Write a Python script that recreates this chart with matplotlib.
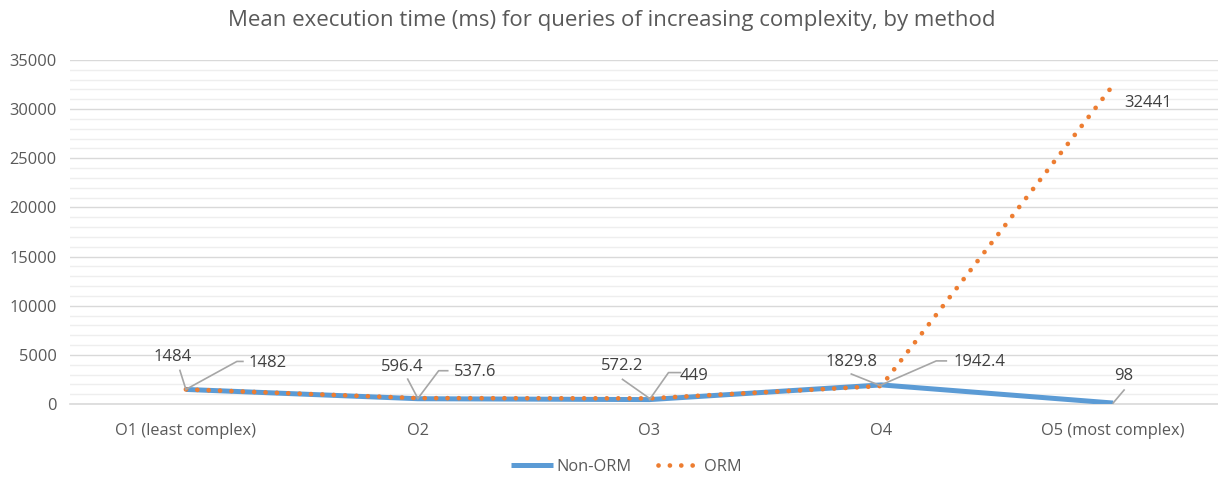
import numpy as np
import matplotlib
matplotlib.use('Agg')
import matplotlib.pyplot as plt
from matplotlib.transforms import IdentityTransform

plt.rcParams['font.family'] = ['Open Sans', 'DejaVu Sans']

categorias = ['O1 (least complex)', 'O2', 'O3', 'O4', 'O5 (most complex)']
non_orm = [1482, 537.6, 449, 1942.4, 98]
orm = [1484, 596.4, 572.2, 1829.8, 32441]
etiquetas_non_orm = ['1482', '537.6', '449', '1942.4', '98']
etiquetas_orm = ['1484', '596.4', '572.2', '1829.8', '32441']

azul = '#5B9BD5'
naranja = '#ED7D31'
gris_texto = '#595959'
gris_linea = '#A6A6A6'

fig = plt.figure(figsize=(12.18, 4.78), dpi=100)
# el eje sobresale a la derecha, como en el original recortado
ax = fig.add_axes([70/1218, 74/478, 1159/1218, 344/478])

x = np.arange(len(categorias))
ax.plot(x, non_orm, color=azul, lw=3.6, solid_capstyle='butt', zorder=3, label='Non-ORM')
ax.plot(x, orm, color=naranja, lw=3.4, linestyle=(0, (0.01, 2.4)), dash_capstyle='round',
        zorder=4, label='ORM')

ax.set_xlim(-0.5, 4.5)
ax.set_ylim(0, 35000)
ax.set_yticks(np.arange(0, 35001, 5000))
ax.set_yticks(np.arange(0, 35001, 1000), minor=True)
ax.set_xticks(x)
ax.set_xticklabels(categorias)
ax.grid(True, which='major', axis='y', color='#D9D9D9', lw=1.0, zorder=0)
ax.grid(True, which='minor', axis='y', color='#EEEEEE', lw=1.0, zorder=0)
ax.tick_params(axis='both', which='both', length=0, colors=gris_texto, labelsize=11.8)
ax.tick_params(axis='x', pad=14)
ax.tick_params(axis='y', pad=9.5)
for s in ['top', 'right', 'left']:
    ax.spines[s].set_visible(False)
ax.spines['bottom'].set_color('#D9D9D9')
ax.spines['bottom'].set_linewidth(1.2)

# etiquetas: posicion del texto (pixeles respecto al punto)
txt_non_orm = [(82, 26), (57, 27), (45, 24), (98, 23), (11, 27)]
txt_orm = [(-13, 32), (-15, 31), (-27, 32), (-30, 24), (35, -18)]
# lineas guia en pixeles respecto al punto (punto -> esquina -> fin)
guia_non_orm = [[(51, 28), (57, 28)], [(21, 28), (30, 28)], [(19, 27), (31, 27)],
                [(55, 24), (65, 24)], [(11, 13)]]
guia_orm = [[(-6, 19)], [(-10, 19)], [(-27, 19)], [(-30, 12)], []]

kw_txt = dict(textcoords='offset pixels', ha='center', va='center', fontsize=12,
              color='#404040', zorder=6)

def guia(xd, yd, tramos):
    if not tramos:
        return
    px, py = ax.transData.transform((xd, yd))
    xs = [px] + [px + t[0] for t in tramos]
    ys = [py] + [py + t[1] for t in tramos]
    ax.plot(xs, ys, color=gris_linea, lw=1.2, transform=IdentityTransform(),
            clip_on=False, zorder=5)

for i in range(len(x)):
    ax.annotate(etiquetas_non_orm[i], (x[i], non_orm[i]), xytext=txt_non_orm[i], **kw_txt)
    ax.annotate(etiquetas_orm[i], (x[i], orm[i]), xytext=txt_orm[i], **kw_txt)
    guia(x[i], non_orm[i], guia_non_orm[i])
    guia(x[i], orm[i], guia_orm[i])

fig.text(0.502, 0.958, 'Mean execution time (ms) for queries of increasing complexity, by method',
         ha='center', va='center', fontsize=16, color=gris_texto)

fig.legend(loc='center', bbox_to_anchor=(0.514, 0.023), ncol=2, frameon=False,
           fontsize=11.8, labelcolor=gris_texto, handlelength=2.6, handletextpad=0.2,
           columnspacing=1.6)

fig.savefig('out.png', dpi=100)
